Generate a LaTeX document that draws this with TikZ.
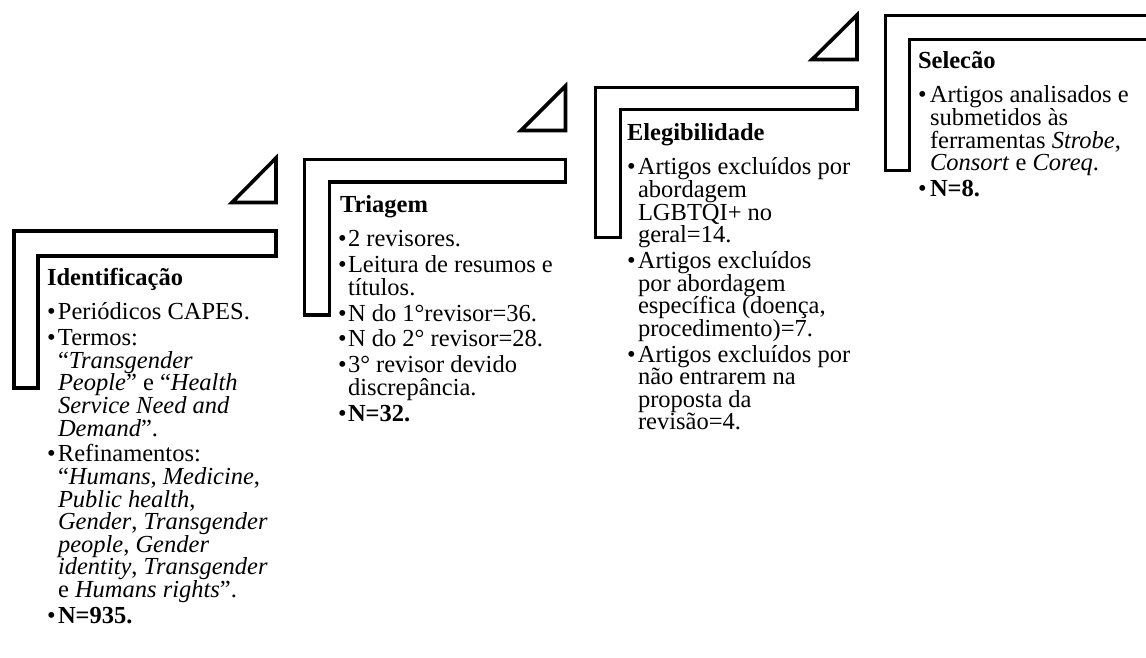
\documentclass[tikz,border=0pt]{standalone}
\usepackage{fontspec}
\setmainfont{Liberation Serif}
\newlength\stepindent
\newcommand\stepitem{\par\hangindent=\stepindent\hangafter=1\makebox[\stepindent][l]{\textbullet}}
\newcommand\steptext[3]{\parbox[t]{330pt}{\setlength\stepindent{#1}\fontsize{24.5}{22.6}\selectfont\parindent=0pt\parskip=3.2pt\textbf{#2}\par\vspace{9pt}#3}}
\tikzset{
  stepshape/.style={draw=black, line width=3.6pt, line join=miter, miter limit=10},
  steplabel/.style={anchor=base west, inner sep=0pt, outer sep=0pt}
}
\begin{document}
\begin{tikzpicture}[x=1pt,y=-1pt]
\useasboundingbox (0,0) rectangle (1146,657);
% step 1
\draw[stepshape] (14,231) -- (276,231) -- (276,256) -- (38,256) -- (38,388) -- (14,388) -- cycle;
\draw[stepshape] (232,202.5) -- (276,202.5) -- (276,158) -- cycle;
% step 2
\draw[stepshape] (304.5,159.5) -- (565.5,159.5) -- (565.5,182) -- (329.5,182) -- (329.5,315) -- (304.5,315) -- cycle;
\draw[stepshape] (521,130.5) -- (565.5,130.5) -- (565.5,86) -- cycle;
% step 3
\draw[stepshape] (595.5,87.5) -- (857,87.5) -- (857,109.5) -- (620.5,109.5) -- (620.5,237.5) -- (595.5,237.5) -- cycle;
\draw[stepshape] (812,59.5) -- (857,59.5) -- (857,15) -- cycle;
% step 4
\draw[stepshape] (885.5,15.5) -- (1147.5,15.5) -- (1147.5,39.5) -- (909.5,39.5) -- (909.5,170.5) -- (885.5,170.5) -- cycle;

\node[steplabel] (t1) at (47,285) {\steptext{11pt}{Identificação}{%
\stepitem Periódicos CAPES.
\stepitem Termos:\\
“\textit{Transgender}\\
\textit{People}” e “\textit{Health}\\
\textit{Service Need and}\\
\textit{Demand}”.
\stepitem Refinamentos:\\
“\textit{Humans}, \textit{Medicine},\\
\textit{Public health},\\
\textit{Gender}, \textit{Transgender}\\
\textit{people}, \textit{Gender}\\
\textit{identity}, \textit{Transgender}\\
e \textit{Humans rights}”.
\stepitem \textbf{N=935.}}};

\node[steplabel] (t2) at (338,212) {\steptext{10pt}{\hspace*{2pt}Triagem}{%
\stepitem 2 revisores.
\stepitem Leitura de resumos e\\
títulos.
\stepitem N do 1°revisor=36.
\stepitem N do 2° revisor=28.
\stepitem 3° revisor devido\\
discrepância.
\stepitem \textbf{N=32.}}};

\node[steplabel] (t3) at (627,140) {\steptext{11pt}{Elegibilidade}{%
\stepitem Artigos excluídos por\\
abordagem\\
LGBTQI+ no\\
geral=14.
\stepitem Artigos excluídos\\
por abordagem\\
específica (doença,\\
procedimento)=7.
\stepitem Artigos excluídos por\\
não entrarem na\\
proposta da\\
revisão=4.}};

\node[steplabel] (t4) at (918,68) {\steptext{12pt}{Selecão}{%
\stepitem Artigos analisados e\\
submetidos às\\
ferramentas \textit{Strobe},\\
\textit{Consort} e \textit{Coreq}.
\stepitem \textbf{N=8.}}};
\end{tikzpicture}
\end{document}
